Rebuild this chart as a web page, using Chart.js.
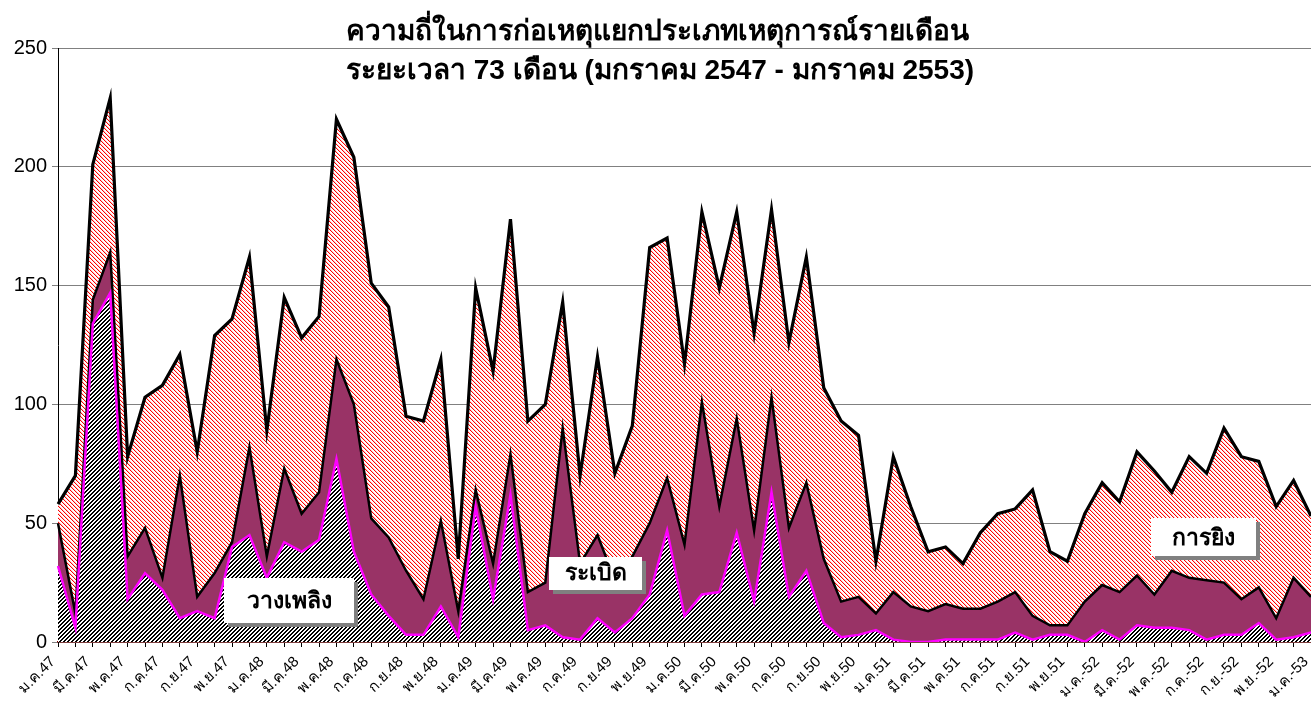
<!DOCTYPE html>
<html lang="th">
<head>
<meta charset="utf-8">
<title>ความถี่ในการก่อเหตุแยกประเภทเหตุการณ์รายเดือน</title>
<script src="https://cdn.jsdelivr.net/npm/chart.js"></script>
<style>
  html, body { margin: 0; padding: 0; background: #fff; }
  canvas { display: block; }
</style>
</head>
<body>
<canvas id="chart" width="1311" height="704"></canvas>
<script>
// เดือน ม.ค.47 - ม.ค.53 (73 เดือน)
const months = [
  'ม.ค.47','ก.พ.47','มี.ค.47','เม.ย.47','พ.ค.47','มิ.ย.47','ก.ค.47','ส.ค.47','ก.ย.47','ต.ค.47','พ.ย.47','ธ.ค.47',
  'ม.ค.48','ก.พ.48','มี.ค.48','เม.ย.48','พ.ค.48','มิ.ย.48','ก.ค.48','ส.ค.48','ก.ย.48','ต.ค.48','พ.ย.48','ธ.ค.48',
  'ม.ค.49','ก.พ.49','มี.ค.49','เม.ย.49','พ.ค.49','มิ.ย.49','ก.ค.49','ส.ค.49','ก.ย.49','ต.ค.49','พ.ย.49','ธ.ค.49',
  'ม.ค.50','ก.พ.50','มี.ค.50','เม.ย.50','พ.ค.50','มิ.ย.50','ก.ค.50','ส.ค.50','ก.ย.50','ต.ค.50','พ.ย.50','ธ.ค.50',
  'ม.ค.51','ก.พ.51','มี.ค.51','เม.ย.51','พ.ค.51','มิ.ย.51','ก.ค.51','ส.ค.51','ก.ย.51','ต.ค.51','พ.ย.51','ธ.ค.51',
  'ม.ค.-52','ก.พ.-52','มี.ค.-52','เม.ย.-52','พ.ค.-52','มิ.ย.-52','ก.ค.-52','ส.ค.-52','ก.ย.-52','ต.ค.-52','พ.ย.-52','ธ.ค.-52',
  'ม.ค.-53'
];

// วางเพลิง (ล่างสุด)
const arson = [
  32, 6, 134, 147, 18, 29, 22, 10, 13, 10, 40, 45,
  27, 42, 38, 43, 77, 38, 20, 11, 3, 3, 15, 2,
  57, 18, 62, 5, 7, 2, 1, 10, 4, 10, 20, 47,
  11, 20, 21, 46, 17, 63, 19, 30, 8, 2, 3, 5,
  1, 0, 0, 1, 1, 1, 1, 4, 1, 3, 3, 0,
  5, 1, 7, 6, 6, 5, 1, 3, 3, 8, 1, 2,
  4
];

// ระเบิด
const bombing = [
  18, 6, 10, 17, 18, 19, 5, 60, 6, 19, 2, 37,
  9, 31, 16, 20, 42, 62, 32, 33, 27, 15, 36, 11,
  7, 15, 17, 16, 18, 88, 32, 35, 22, 26, 30, 22,
  30, 81, 36, 48, 30, 40, 29, 37, 27, 15, 16, 7,
  20, 15, 13, 15, 13, 13, 16, 17, 10, 4, 4, 17,
  19, 20, 21, 14, 24, 22, 25, 22, 15, 15, 9, 25,
  15
];

// การยิง (บนสุด)
const shooting = [
  8, 58, 57, 65, 42, 55, 81, 51, 61, 100, 94, 80,
  53, 72, 74, 74, 101, 104, 99, 97, 65, 75, 68, 22,
  85, 81, 99, 72, 75, 53, 37, 75, 45, 55, 116, 101,
  76, 80, 92, 87, 83, 79, 78, 95, 72, 76, 68, 22,
  57, 42, 25, 24, 19, 32, 37, 35, 53, 31, 27, 37,
  43, 38, 52, 52, 33, 51, 45, 65, 60, 53, 47, 41,
  34
];

const yTicks = [0, 50, 100, 150, 200, 250];

const titleLines = [
  'ความถี่ในการก่อเหตุแยกประเภทเหตุการณ์รายเดือน',
  'ระยะเวลา 73 เดือน (มกราคม 2547 - มกราคม 2553)'
];

// ป้ายชื่อในพื้นที่กราฟ (ตำแหน่งเป็น index เดือน / ค่าแกน y)
const tags = [
  { text: 'วางเพลิง', at: 13.3, val: 17.5, w: 130, h: 45 },
  { text: 'ระเบิด', at: 30.9, val: 29, w: 93, h: 33 },
  { text: 'การยิง', at: 65.8, val: 44, w: 105, h: 38 }
];

const FONT = 'Arial, "Liberation Sans", "Noto Sans", sans-serif';

// ลายเส้นทแยงแบบ Excel
function hatch(pick) {
  const c = document.createElement('canvas');
  c.width = 4; c.height = 4;
  const g = c.getContext('2d');
  const img = g.createImageData(4, 4);
  for (let y = 0; y < 4; y++) {
    for (let x = 0; x < 4; x++) {
      const col = pick(x, y);
      const k = (y * 4 + x) * 4;
      img.data[k] = col[0]; img.data[k + 1] = col[1]; img.data[k + 2] = col[2]; img.data[k + 3] = 255;
    }
  }
  g.putImageData(img, 0, 0);
  return g.createPattern(c, 'repeat');
}

const blackHatch = hatch((x, y) => ((x + y) % 4 < 2 ? [0, 0, 0] : [255, 255, 255]));
const redHatch = hatch((x, y) => {
  const d = ((x - y) % 4 + 4) % 4;
  if (d === 0) return [255, 0, 0];
  if (d === 1) return [255, 200, 200];
  return [255, 255, 255];
});

const overlay = {
  id: 'overlay',
  afterDraw(chart) {
    const { ctx, scales: { x, y } } = chart;
    ctx.save();
    // กล่องป้ายชื่อ
    tags.forEach(t => {
      const cx = x.getPixelForValue(t.at);
      const cy = y.getPixelForValue(t.val);
      const left = Math.round(cx - t.w / 2), top = Math.round(cy - t.h / 2);
      ctx.fillStyle = '#808080';
      ctx.fillRect(left + 4, top + 4, t.w, t.h);
      ctx.fillStyle = '#fff';
      ctx.fillRect(left, top, t.w, t.h);
      ctx.fillStyle = '#000';
      ctx.font = 'bold 23px ' + FONT;
      ctx.textAlign = 'center';
      ctx.textBaseline = 'middle';
      ctx.fillText(t.text, cx, cy + 1);
    });
    // ชื่อกราฟ
    ctx.fillStyle = '#000';
    ctx.font = 'bold 28px ' + FONT;
    ctx.textAlign = 'center';
    ctx.textBaseline = 'middle';
    ctx.fillText(titleLines[0], 657, 32);
    ctx.fillText(titleLines[1], 660, 71);
    ctx.restore();
  }
};

new Chart(document.getElementById('chart'), {
  type: 'line',
  data: {
    labels: months,
    datasets: [
      { label: 'วางเพลิง', data: arson, fill: 'origin', backgroundColor: blackHatch, borderColor: '#ff00ff', borderWidth: 2.5 },
      { label: 'ระเบิด', data: bombing, fill: '-1', backgroundColor: '#993366', borderColor: '#000', borderWidth: 2.5 },
      { label: 'การยิง', data: shooting, fill: '-1', backgroundColor: redHatch, borderColor: '#000', borderWidth: 3.2 }
    ]
  },
  options: {
    responsive: false,
    animation: false,
    layout: { padding: { top: 48, right: 0, left: 0, bottom: 0 } },
    elements: { point: { radius: 0 }, line: { tension: 0, borderJoinStyle: 'miter' } },
    plugins: { legend: { display: false }, tooltip: { enabled: false } },
    scales: {
      x: {
        offset: false,
        grid: { drawOnChartArea: false, drawTicks: true, tickLength: 5, color: '#000' },
        border: { color: '#800000', width: 1.5 },
        ticks: {
          autoSkip: false, minRotation: 45, maxRotation: 45, padding: 6, labelOffset: -5,
          color: '#000', font: { family: FONT, size: 15 },
          callback: (v, i) => (i % 2 === 0 ? months[i] : '')
        },
        afterFit: s => { s.height = 62; s.paddingLeft = 0; s.paddingRight = 0; }
      },
      y: {
        stacked: true,
        min: 0, max: 250,
        afterBuildTicks: s => { s.ticks = yTicks.map(v => ({ value: v })); },
        grid: { color: '#808080', tickLength: 6, lineWidth: 1 },
        border: { color: '#000', width: 1 },
        ticks: { color: '#000', padding: 5, font: { family: FONT, size: 20 } },
        afterFit: s => { s.width = 58; }
      }
    }
  },
  plugins: [overlay]
});
</script>
</body>
</html>
